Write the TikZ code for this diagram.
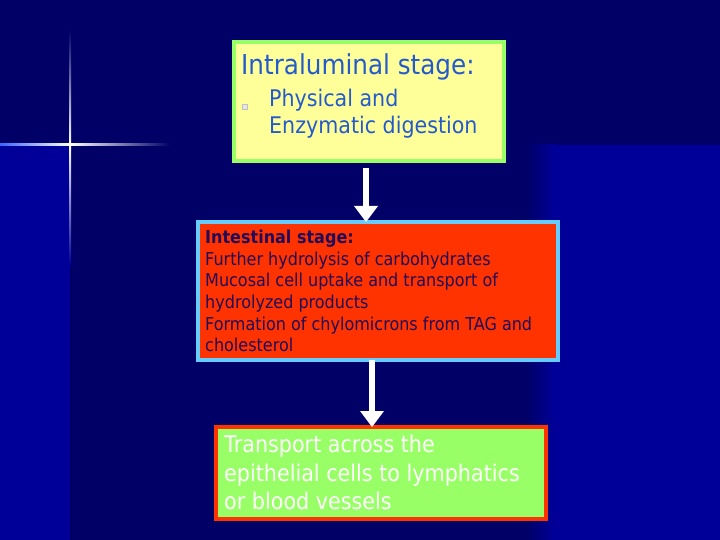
\documentclass[tikz,border=0pt]{standalone}
\usepackage{fontspec}
\setmainfont{DejaVu Sans}[FakeStretch=0.9]
\usepackage{xcolor}
\usetikzlibrary{arrows.meta, positioning}

\definecolor{navydark}{RGB}{0,0,102}
\definecolor{navybright}{RGB}{0,0,153}
\definecolor{paleyellow}{RGB}{255,255,153}
\definecolor{palegreen}{RGB}{153,255,102}
\definecolor{skyedge}{RGB}{102,204,255}
\definecolor{redorange}{RGB}{255,51,0}
\definecolor{titleblue}{RGB}{36,90,204}
\definecolor{inktext}{RGB}{34,10,90}
\definecolor{flareblue}{RGB}{60,100,255}

\begin{document}
\begin{tikzpicture}[x=1pt, y=-1pt,
    stagebox/.style={draw, rectangle, line width=4pt, inner sep=0pt, outer sep=0pt},
    stagetext/.style={anchor=north west, inner sep=0pt, align=left},
    flow/.style={draw=white, line width=6pt, -{Triangle[width=24pt, length=16pt, line width=0pt]}}
]
\useasboundingbox (0,0) rectangle (720,540);

% Background
\fill[navydark] (0,0) rectangle (720,540);
\fill[navybright] (0,145) rectangle (70,540);
\shade[left color=navydark, right color=navybright] (525,145) rectangle (555,540);
\fill[navybright] (555,145) rectangle (720,540);

% Flare
\shade[left color=flareblue, right color=white] (0,144) rectangle (70,146);
\shade[left color=white, right color=navydark] (70,144) rectangle (170,146);
\shade[top color=navydark, bottom color=white] (69,30) rectangle (71,145);
\shade[top color=white, bottom color=navybright] (69,145) rectangle (71,265);

% Nodes
\node[stagebox, draw=palegreen, fill=paleyellow, minimum width=270pt, minimum height=119pt] (intraluminal) at (369,101.5) {};
\node[stagebox, draw=skyedge, fill=redorange, minimum width=360pt, minimum height=138pt] (intestinal) at (378,291) {};
\node[stagebox, draw=redorange, fill=palegreen, minimum width=330pt, minimum height=92pt] (transport) at (381,473) {};

\node[stagetext, text=titleblue, font=\fontsize{27.4}{31}\selectfont] (intratitle) at (241,53) {Intraluminal stage:};
\node[draw=gray!50, fill=gray!20, line width=0.5pt, minimum size=5pt, inner sep=0pt] (bullet) at (245,107) {};
\node[stagetext, text=titleblue, font=\fontsize{22.9}{27}\selectfont] (intrabody) at (269,89) {Physical and\\Enzymatic digestion};

\node[stagetext, text=inktext, font=\fontsize{17.8}{21.6}\selectfont] (intestbody) at (205,230) {\textbf{Intestinal stage:}\\Further hydrolysis of carbohydrates\\Mucosal cell uptake and transport of\\hydrolyzed products\\Formation of chylomicrons from TAG and\\cholesterol};

\node[stagetext, text=white, font=\fontsize{23}{28.5}\selectfont] (transbody) at (224,435) {Transport across the\\epithelial cells to lymphatics\\or blood vessels};

% Connections
\draw[flow] ([xshift=-3pt, yshift=-7pt]intraluminal.south) -- ([xshift=-3pt]intraluminal.south |- intestinal.north);
\draw[flow] ([xshift=-6pt]intestinal.south) -- ([xshift=-6pt]intestinal.south |- transport.north);

\end{tikzpicture}
\end{document}
